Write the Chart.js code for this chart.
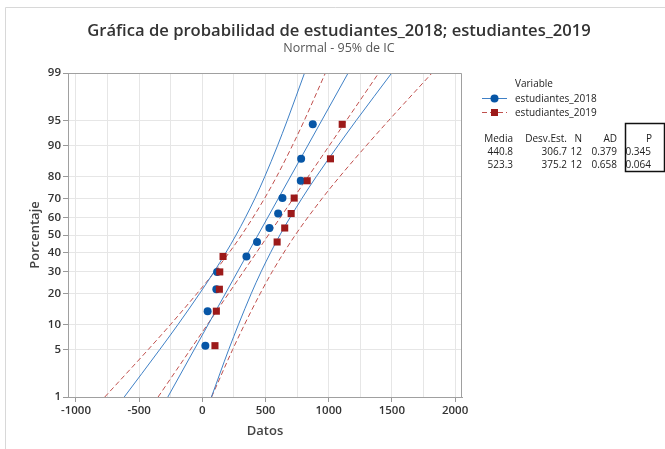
<!DOCTYPE html>
<html>
<head>
<meta charset="utf-8">
<script src="https://cdn.jsdelivr.net/npm/chart.js@4"></script>
<style>
  body { margin: 0; background: #fff; }
  #wrap { width: 665px; height: 449px; position: relative; }
</style>
</head>
<body>
<div id="wrap"><canvas id="probChart" width="665" height="449"></canvas></div>
<script>
// percent ticks on the probability axis
const yTicks = [1, 5, 10, 20, 30, 40, 50, 60, 70, 80, 90, 95, 99];
// data axis: labels every 500, grid every 250
const xGrid = [-1000, -750, -500, -250, 0, 250, 500, 750, 1000, 1250, 1500, 1750, 2000];
const xLabelStep = 500;

// plotting positions (%) for n = 12
const plotPct = [5.6, 13.7, 21.8, 29.8, 37.9, 46.0, 54.0, 62.1, 70.2, 78.2, 86.3, 94.4];
const est2018 = [24, 42, 111, 117, 349, 433, 531, 600, 634, 779, 782, 874];
const est2019 = [100, 111, 135, 138, 164, 592, 652, 703, 727, 830, 1014, 1107];

// fitted lines and 95% CI bands, read at these percents
const fitPct = [1, 99];
const fit2018 = [-273, 1154];
const fit2019 = [-350, 1396];
const ciPct = [1, 5, 10, 20, 30, 50, 70, 80, 90, 95, 99];
const ci2018Low = [-618, -337, -191, -22, 94, 267, 416, 495, 595, 672, 809];
const ci2018High = [72, 209, 287, 387, 466, 614, 788, 903, 1073, 1218, 1499];
const ci2019Low = [-772, -428, -250, -43, 99, 311, 492, 589, 712, 807, 974];
const ci2019High = [73, 240, 335, 458, 554, 736, 948, 1089, 1297, 1475, 1818];

// summary table
const seriesNames = ["estudiantes_2018", "estudiantes_2019"];
const statHeaders = ["Media", "Desv.Est.", "N", "AD", "P"];
const statMedia = ["440.8", "523.3"];
const statDesv = ["306.7", "375.2"];
const statN = ["12", "12"];
const statAD = ["0.379", "0.658"];
const statP = ["0.345", "0.064"];

const BLUE = "#0756a6";
const BLUE_LINE = "#3f80c6";
const RED = "#9c1a1a";
const RED_LINE = "#c0504d";
const FONT = '"Open Sans", "Noto Sans", sans-serif';

// inverse normal cdf (Acklam)
function probit(p) {
    const a = [-39.6968302866538, 220.946098424521, -275.928510446969, 138.357751867269, -30.6647980661472, 2.50662827745924];
    const b = [-54.4760987982241, 161.585836858041, -155.698979859887, 66.8013118877197, -13.2806815528857];
    const c = [-0.00778489400243029, -0.322396458041136, -2.40075827716184, -2.54973253934373, 4.37466414146497, 2.93816398269878];
    const d = [0.00778469570904146, 0.32246712907004, 2.445134137143, 3.75440866190742];
    const pl = 0.02425;
    let q, r;
    if (p < pl) {
        q = Math.sqrt(-2 * Math.log(p));
        return (((((c[0]*q+c[1])*q+c[2])*q+c[3])*q+c[4])*q+c[5]) / ((((d[0]*q+d[1])*q+d[2])*q+d[3])*q+1);
    }
    if (p > 1 - pl) {
        q = Math.sqrt(-2 * Math.log(1 - p));
        return -(((((c[0]*q+c[1])*q+c[2])*q+c[3])*q+c[4])*q+c[5]) / ((((d[0]*q+d[1])*q+d[2])*q+d[3])*q+1);
    }
    q = p - 0.5; r = q * q;
    return (((((a[0]*r+a[1])*r+a[2])*r+a[3])*r+a[4])*r+a[5])*q / (((((b[0]*r+b[1])*r+b[2])*r+b[3])*r+b[4])*r+1);
}

function normCdf(z) {
    const t = 1 / (1 + 0.2316419 * Math.abs(z));
    const y = t * (0.319381530 + t * (-0.356563782 + t * (1.781477937 + t * (-1.821255978 + t * 1.330274429))));
    const v = 1 - Math.exp(-z * z / 2) / Math.sqrt(2 * Math.PI) * y;
    return z >= 0 ? v : 1 - v;
}

// normal probability scale: values are percents
class ProbitScale extends Chart.LinearScale {
    determineDataLimits() {
        this.min = probit(yTicks[0] / 100);
        this.max = probit(yTicks[yTicks.length - 1] / 100);
    }
    buildTicks() {
        return yTicks.map(v => ({ value: v }));
    }
    getPixelForValue(v) {
        return super.getPixelForValue(probit(v / 100));
    }
    getValueForPixel(px) {
        return 100 * normCdf(super.getValueForPixel(px));
    }
}
ProbitScale.id = "probit";
ProbitScale.defaults = Chart.LinearScale.defaults;
Chart.register(ProbitScale);

function pairs(xs, ys) {
    return xs.map((x, i) => ({ x: x, y: ys[i] }));
}

function curve(xs, ys, color, dashed) {
    return {
        data: pairs(xs, ys),
        showLine: true,
        borderColor: color,
        borderWidth: 1,
        borderDash: dashed ? [5, 3] : [],
        pointRadius: 0,
        cubicInterpolationMode: "monotone",
        order: 5
    };
}

const textPlugin = {
    id: "textPlugin",
    beforeDraw(chart) {
        const ctx = chart.ctx;
        ctx.save();
        ctx.fillStyle = "#fff";
        ctx.fillRect(0, 0, chart.width, chart.height);
        ctx.strokeStyle = "#d8d8d8";
        ctx.lineWidth = 1;
        ctx.beginPath();
        ctx.moveTo(5.5, 449);
        ctx.lineTo(5.5, 7.5);
        ctx.lineTo(665, 7.5);
        ctx.stroke();
        ctx.restore();
    },
    afterDraw(chart) {
        const ctx = chart.ctx;
        const area = chart.chartArea;
        ctx.save();
        // frame
        ctx.strokeStyle = "#a0a0a0";
        ctx.lineWidth = 1;
        ctx.beginPath();
        ctx.moveTo(area.left, area.top + 0.5);
        ctx.lineTo(area.right - 0.5, area.top + 0.5);
        ctx.lineTo(area.right - 0.5, area.bottom);
        ctx.stroke();

        // title
        ctx.textAlign = "center";
        ctx.textBaseline = "middle";
        ctx.fillStyle = "#333";
        ctx.font = "600 16.6px " + FONT;
        ctx.fillText("Gráfica de probabilidad de estudiantes_2018; estudiantes_2019", 339, 31);
        ctx.fillStyle = "#555";
        ctx.font = "12.5px " + FONT;
        ctx.fillText("Normal - 95% de IC", 339, 48);

        // legend
        ctx.textAlign = "left";
        ctx.fillStyle = "#222";
        ctx.font = "10px " + FONT;
        ctx.fillText("Variable", 515, 84);
        const rows = [98, 112];
        rows.forEach((y, i) => {
            ctx.lineWidth = 1;
            ctx.strokeStyle = i === 0 ? BLUE_LINE : RED_LINE;
            ctx.setLineDash(i === 0 ? [] : [5, 3]);
            ctx.beginPath();
            ctx.moveTo(482, y + 0.5);
            ctx.lineTo(507, y + 0.5);
            ctx.stroke();
            ctx.setLineDash([]);
            ctx.fillStyle = i === 0 ? BLUE : RED;
            ctx.beginPath();
            if (i === 0) ctx.arc(494.5, y + 0.5, 4, 0, Math.PI * 2);
            else ctx.rect(491, y - 3, 7, 7);
            ctx.fill();
            ctx.fillStyle = "#222";
            ctx.fillText(seriesNames[i], 515, y + 1);
        });

        // statistics table
        const colRight = [513, 567, 582, 617, 651];
        ctx.textAlign = "right";
        statHeaders.forEach((h, j) => {
            if (j === 4) {
                ctx.textAlign = "center";
                ctx.fillText(h, 649, 139);
                ctx.textAlign = "right";
            } else {
                ctx.fillText(h, colRight[j], 139);
            }
        });
        const cols = [statMedia, statDesv, statN, statAD, statP];
        [152, 165].forEach((y, i) => {
            cols.forEach((col, j) => ctx.fillText(col[i], colRight[j], y));
        });
        ctx.strokeStyle = "#111";
        ctx.lineWidth = 1.5;
        ctx.strokeRect(625.5, 123.5, 39, 48);
        ctx.restore();
    }
};

function renderChart() {
    const ctx = document.getElementById("probChart").getContext("2d");
    new Chart(ctx, {
        type: "scatter",
        data: {
            datasets: [
                {
                    label: seriesNames[0],
                    data: pairs(est2018, plotPct),
                    pointStyle: "circle",
                    pointRadius: 4,
                    backgroundColor: BLUE,
                    borderColor: BLUE,
                    borderWidth: 0,
                    order: 1
                },
                {
                    label: seriesNames[1],
                    data: pairs(est2019, plotPct),
                    pointStyle: "rect",
                    pointRadius: 5,
                    backgroundColor: RED,
                    borderColor: RED,
                    borderWidth: 0,
                    order: 0
                },
                curve(fit2018, fitPct, BLUE_LINE, false),
                curve(ci2018Low, ciPct, BLUE_LINE, false),
                curve(ci2018High, ciPct, BLUE_LINE, false),
                curve(fit2019, fitPct, RED_LINE, true),
                curve(ci2019Low, ciPct, RED_LINE, true),
                curve(ci2019High, ciPct, RED_LINE, true)
            ]
        },
        options: {
            responsive: false,
            animation: false,
            devicePixelRatio: 1,
            layout: { padding: { top: 73, right: 203, left: 0, bottom: 0 } },
            plugins: {
                legend: { display: false },
                title: { display: false },
                tooltip: { enabled: false }
            },
            scales: {
                x: {
                    type: "linear",
                    min: -1063,
                    max: 2055,
                    afterBuildTicks: scale => {
                        scale.ticks = xGrid.map(v => ({ value: v }));
                    },
                    afterFit: scale => { scale.height = 52; },
                    ticks: {
                        autoSkip: false,
                        maxRotation: 0,
                        padding: 2,
                        color: "#333",
                        font: { family: FONT, size: 11.5, weight: "600" },
                        callback: v => (v % xLabelStep === 0 ? String(v) : "")
                    },
                    grid: {
                        color: "#e6e6e6",
                        tickLength: 5,
                        tickColor: c => (c.tick && c.tick.value % xLabelStep === 0 ? "#999" : "rgba(0,0,0,0)")
                    },
                    border: { color: "#a0a0a0" },
                    title: {
                        display: true,
                        text: "Datos",
                        color: "#444",
                        font: { family: FONT, size: 13, weight: "600" },
                        padding: { top: 0, bottom: 10 }
                    }
                },
                y: {
                    type: "probit",
                    afterFit: scale => { scale.width = 68; },
                    ticks: {
                        autoSkip: false,
                        padding: 2,
                        color: "#333",
                        font: { family: FONT, size: 11.5, weight: "600" },
                        callback: v => String(v)
                    },
                    grid: { color: "#e6e6e6", tickLength: 5, tickColor: "#999" },
                    border: { color: "#a0a0a0" },
                    title: {
                        display: true,
                        text: "Porcentaje",
                        color: "#444",
                        font: { family: FONT, size: 13, weight: "600" },
                        padding: { top: 27, bottom: 0 }
                    }
                }
            }
        },
        plugins: [textPlugin]
    });
}

document.addEventListener("DOMContentLoaded", () => {
    renderChart();
});
</script>
</body>
</html>
